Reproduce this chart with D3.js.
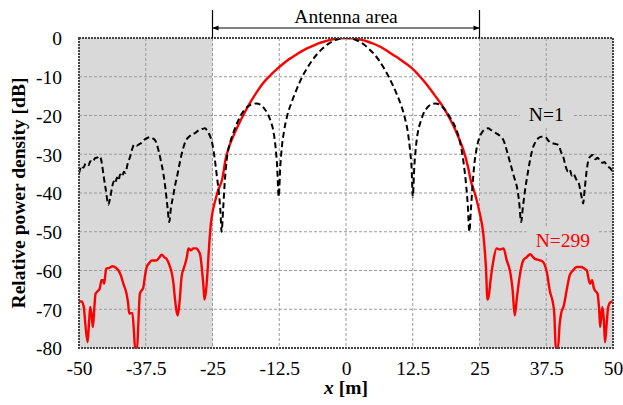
<!DOCTYPE html>
<html>
<head>
<meta charset="utf-8">
<script src="https://cdn.jsdelivr.net/npm/d3@7"></script>
<style>
    body { margin: 0; background: #fff; }
    svg text { font-family: "Liberation Serif", "Times New Roman", Times, "DejaVu Serif", serif; }
</style>
</head>
<body>
<div class="chart"></div>
<script>
// axis ticks
const xTicks = [-50, -37.5, -25, -12.5, 0, 12.5, 25, 37.5, 50];
const yTicks = [0, -10, -20, -30, -40, -50, -60, -70, -80];
const antennaEdges = [-25, 25];

// N=1 (black dashed)
const n1X = [-50, -49.5, -49.2, -48.7, -48.2, -47.9, -47.4, -47, -46.5, -46.1, -45.7, -45.4, -45, -44.5, -44.2,
    -43.8, -43.5, -43.2, -42.9, -42.6, -42.3, -41.9, -41.6, -41.3, -40.9, -40.4, -40, -39.7, -39.2, -38.7,
    -38.2, -37.7, -37.2, -36.7, -36.2, -35.7, -35.2, -34.7, -34.2, -33.8, -33.4, -33.1, -32.8, -32.4, -32,
    -31.6, -31.1, -30.6, -30, -29.4, -28.8, -28.2, -27.6, -27, -26.4, -25.9, -25.4, -25, -24.6, -24.2,
    -23.8, -23.5, -23.3, -23, -22.7, -22.3, -21.7, -21.1, -20.4, -19.8, -19.1, -18.4, -17.6, -16.8, -16,
    -15.3, -14.7, -14.1, -13.6, -13.2, -12.9, -12.6, -12.3, -12, -11.6, -11, -10.3, -9.6, -8.8, -8,
    -7.2, -6.3, -5.3, -4.3, -3.3, -2.3, -1.2, 0,
    1.2, 2.3, 3.3, 4.3, 5.3, 6.3, 7.2, 8, 8.8, 9.6, 10.3, 11, 11.6, 12, 12.3, 12.5, 12.8, 13.1, 13.5, 14,
    14.5, 15.2, 16, 16.7, 17.5, 18.2, 18.9, 19.6, 20.3, 21, 21.6, 22.1, 22.5, 22.8, 23.1, 23.4, 23.7, 24,
    24.4, 24.9, 25.4, 26, 26.6, 27.2, 27.8, 28.4, 29, 29.5, 30, 30.5, 31, 31.5, 32, 32.4, 32.8, 33.1, 33.5,
    33.9, 34.4, 34.9, 35.4, 36, 36.6, 37.3, 37.9, 38.5, 39.1, 39.8, 40.3, 40.7, 41.1, 41.6, 41.9, 42.3,
    42.6, 42.9, 43.3, 43.6, 43.9, 44.2, 44.4, 44.7, 45, 45.4, 45.8, 46.3, 46.7, 47.1, 47.6, 48, 48.4,
    48.8, 49.2, 49.6, 50];
const n1Db = [-35, -33, -33.5, -32.3, -32.8, -31.8, -32, -31, -30.8, -30.5, -32.5, -35.5, -39, -43, -41.5,
    -38.5, -37, -37.5, -36, -36.8, -35.2, -35.8, -34.5, -34.8, -32.5, -30.5, -28.5, -27.5, -27.8, -27.4,
    -27, -26.2, -25.8, -25.6, -25.9, -26.5, -28.5, -31.5, -35, -39, -44, -47.5, -44, -41, -38,
    -35.5, -32, -29, -26.5, -25.5, -24.8, -24.5, -23.8, -23.5, -23.3, -24.2, -25.5, -27.5, -31, -35.5,
    -40, -45, -50, -44, -37, -31, -27, -24.5, -22, -20.2, -18.7, -17.7, -17.1, -16.9, -17.2,
    -18.2, -19.5, -21.5, -24, -28, -33, -41, -33, -28, -24, -20, -17, -14.5, -11.8, -9.5,
    -7.6, -5.7, -4, -2.6, -1.5, -0.7, -0.2, 0,
    -0.2, -0.8, -1.6, -2.8, -4.2, -6, -8, -10, -12.3, -14.8, -17.3, -20.5, -24.5, -29, -34, -41, -33, -28, -24, -21.5,
    -19.5, -18, -17.1, -16.9, -17.2, -18, -19.2, -20.8, -22.5, -25, -28.5, -33, -38, -43, -50, -44, -38, -33,
    -29, -26, -24.5, -23.6, -23.3, -23.8, -24.3, -24.8, -25.5, -26.4, -28.5, -31, -33.5, -36, -38.4, -42, -47.5, -44, -39.5,
    -36, -32, -28.8, -27, -25.9, -25.5, -25.5, -26.5, -27.2, -27.3, -27.6, -29.5, -30.7, -33, -34.5, -34, -35.5,
    -35, -35.8, -37, -37.5, -39.5, -41.5, -42.7, -39, -35, -31.5, -30.5, -30.2, -31.3, -30.9, -31.8, -32.2, -32,
    -32.8, -33.3, -33.8, -34.8];

// N=299 (red solid)
const n299X = [-50, -49.5, -49.1, -48.8, -48.4, -48.1, -47.9, -47.6, -47.4, -47.1, -46.9, -46.4, -46.1, -45.8,
    -45.5, -45.3, -44.9, -44.3, -43.7, -43.1, -42.6, -42.1, -41.7, -41.1, -40.8, -40.6, -40.2, -40, -39.7,
    -39.5, -39.1, -38.9, -38.6, -38.2, -38, -37.6, -37.3, -36.8, -36.4, -35.5, -35, -34.5, -34, -33.6, -33.1,
    -32.6, -32.3, -32, -31.5, -31.1, -30.8, -30.4, -30.1, -29.8, -29.5, -29, -28.6, -28, -27.6, -27.3, -26.9,
    -26.7, -26.5, -26.2, -26, -25.7, -25.3, -25, -24.5, -24, -23.2, -22.5, -22, -21, -20, -19, -18, -17, -16,
    -15, -14, -13, -12, -11, -10, -9, -8, -7, -6, -5, -4, -3, -2, -1, 0,
    1, 2, 3, 4, 5, 6, 7, 8, 9, 10, 11, 12, 13, 14, 15, 16, 17, 18, 19, 20, 21, 22, 22.8, 23.5, 24, 24.5, 25,
    25.7, 26.2, 26.5, 26.8, 27, 27.6, 28.2, 28.8, 29.5, 30.1, 30.5, 30.8, 31.2, 31.6, 32, 32.5, 33.2, 33.8,
    34.5, 35, 35.4, 36.2, 36.9, 37.6, 38.2, 38.7, 39, 39.3, 39.7, 40, 40.3, 40.8, 41.2, 41.6, 41.9, 42.5,
    43.2, 44.1, 44.6, 45.1, 45.4, 45.7, 46.1, 46.4, 46.6, 47.1, 47.4, 47.6, 48, 48.3, 48.5, 48.8, 49.1, 49.5, 49.9];
const n299Db = [-68, -68, -69.5, -74, -78.5, -73, -69.4, -72, -74.6, -69, -66, -65.2, -64.6, -62.5,
    -62.5, -63.4, -59.5, -59.3, -58.9, -59.3, -60, -61.5, -63.4, -66, -68.5, -71.1, -71, -71, -76,
    -80, -80, -74, -66, -65, -64.6, -61, -59, -58, -57.4, -57.4, -56.7, -55.9, -56.6, -57, -58.5,
    -60.8, -63.5, -67.7, -71.6, -67, -61.7, -59.5, -58.2, -56.5, -54.3, -54.8, -54.3, -54.3, -55, -56, -60.8,
    -64, -67.5, -65, -61.7, -55, -47.9, -45, -42, -39.5, -36.5, -31, -28.5, -25, -22, -19.3, -16.8, -14.6, -12.5,
    -10.8, -9.4, -8.1, -6.9, -5.8, -4.9, -4, -3.2, -2.5, -1.9, -1.3, -0.9, -0.5, -0.2, -0.05, 0,
    -0.05, -0.2, -0.5, -0.9, -1.4, -2, -2.7, -3.6, -4.5, -5.4, -6.4, -7.4, -8.7, -10.2, -11.8, -13.6, -15.5,
    -17.4, -19.7, -22.3, -25.4, -29, -33, -37.5, -39.5, -42, -45,
    -50.4, -59.1, -67.5, -66, -63.4, -57.4, -54.3, -54.6, -54.3, -57.4, -59, -60.8, -65, -71.6, -67, -61.7, -57.4, -56.6,
    -55.8, -56.5, -57, -57.3, -57.8, -60.4, -65.5, -68, -71.1, -80, -80, -74, -71, -69, -66, -63, -61.2, -60,
    -59.1, -59.1, -59.5, -60, -62, -63.4, -62.5, -64.5, -65.1, -66, -70, -74.6, -69.4, -73, -78.5, -74, -69.4, -68.2, -68];

const width = 623;
const height = 405;
const margin = {top: 38, right: 10, bottom: 57, left: 79};
const innerW = width - margin.left - margin.right;
const innerH = height - margin.top - margin.bottom;
const fontSize = 19.5;
const serif = '"Liberation Serif", "Times New Roman", Times, "DejaVu Serif", serif';

const x = d3.scaleLinear().domain([-50, 50]).range([0, innerW]);
const y = d3.scaleLinear().domain([-80, 0]).range([innerH, 0]);

const svg = d3.select('.chart').append('svg')
    .attr('width', width)
    .attr('height', height)
    .attr('font-family', serif);

const g = svg.append('g')
    .attr('transform', `translate(${margin.left},${margin.top})`);

g.append('clipPath').attr('id', 'plot-clip')
    .append('rect').attr('width', innerW).attr('height', innerH + 1);

// shaded regions outside the antenna
g.selectAll('.shade')
    .data([[-50, antennaEdges[0]], [antennaEdges[1], 50]])
    .enter().append('rect')
    .attr('class', 'shade')
    .attr('x', d => x(d[0]))
    .attr('y', 0)
    .attr('width', d => x(d[1]) - x(d[0]))
    .attr('height', innerH)
    .attr('fill', '#d9d9d9');

// grid
g.append('g')
    .selectAll('line')
    .data(xTicks.slice(1, -1))
    .enter().append('line')
    .attr('x1', d => x(d)).attr('x2', d => x(d))
    .attr('y1', 0).attr('y2', innerH)
    .attr('stroke', '#9a9a9a').attr('stroke-width', 1).attr('stroke-dasharray', '3,2');

g.append('g')
    .selectAll('line')
    .data(yTicks.slice(1, -1))
    .enter().append('line')
    .attr('x1', 0).attr('x2', innerW)
    .attr('y1', d => y(d)).attr('y2', d => y(d))
    .attr('stroke', '#9a9a9a').attr('stroke-width', 1).attr('stroke-dasharray', '3,2');

// axes (labels only)
const xAxis = g.append('g')
    .attr('transform', `translate(0,${innerH})`)
    .call(d3.axisBottom(x).tickValues(xTicks).tickSize(0).tickPadding(13).tickFormat(d => String(d)));
const yAxis = g.append('g')
    .call(d3.axisLeft(y).tickValues(yTicks).tickSize(0).tickPadding(17).tickFormat(d => String(d)));

[xAxis, yAxis].forEach(a => {
    a.attr('font-family', serif).attr('font-size', fontSize);
    a.select('.domain').remove();
    a.selectAll('text').attr('fill', '#000');
});
yAxis.selectAll('text').attr('dy', '0.35em');

// series labels with background
const labels = [
    {text: 'N=1', xv: 37.5, yv: -20, color: '#000', dy: 5},
    {text: 'N=299', xv: 40.6, yv: -50, color: '#ff0000', dy: 15}
];
labels.forEach(l => {
    const t = g.append('text')
        .attr('x', x(l.xv))
        .attr('y', y(l.yv) + l.dy)
        .attr('text-anchor', 'middle')
        .attr('font-size', fontSize)
        .attr('fill', l.color)
        .text(l.text);
    const b = t.node().getBBox();
    g.insert('rect', () => t.node())
        .attr('x', b.x - 9).attr('y', b.y - 2)
        .attr('width', b.width + 18).attr('height', b.height + 4)
        .attr('fill', '#d9d9d9');
});

// curves
const line = d3.line()
    .x(d => x(d[0]))
    .y(d => y(d[1]))
    .curve(d3.curveMonotoneX);

g.append('path')
    .datum(n299X.map((v, i) => [v, n299Db[i]]))
    .attr('clip-path', 'url(#plot-clip)')
    .attr('fill', 'none')
    .attr('stroke', '#ff0000')
    .attr('stroke-width', 2.4)
    .attr('stroke-linejoin', 'round')
    .attr('d', line);

g.append('path')
    .datum(n1X.map((v, i) => [v, n1Db[i]]))
    .attr('clip-path', 'url(#plot-clip)')
    .attr('fill', 'none')
    .attr('stroke', '#000')
    .attr('stroke-width', 2)
    .attr('stroke-dasharray', '6,3.5')
    .attr('d', line);

// plot border
g.append('rect')
    .attr('width', innerW).attr('height', innerH)
    .attr('fill', 'none')
    .attr('stroke', '#444')
    .attr('stroke-width', 2)
    .attr('stroke-dasharray', '2,1');

// antenna area annotation
const arrowY = -10;
g.append('defs').selectAll('marker')
    .data(['start', 'end'])
    .enter().append('marker')
    .attr('id', d => `arrow-${d}`)
    .attr('viewBox', '0 0 10 10')
    .attr('refX', 10).attr('refY', 5)
    .attr('markerWidth', 8).attr('markerHeight', 6)
    .attr('markerUnits', 'userSpaceOnUse')
    .attr('orient', 'auto-start-reverse')
    .append('path')
    .attr('d', 'M0,1L10,5L0,9Z')
    .attr('fill', '#000');

g.selectAll('.edge')
    .data(antennaEdges)
    .enter().append('line')
    .attr('class', 'edge')
    .attr('x1', d => x(d)).attr('x2', d => x(d))
    .attr('y1', -28).attr('y2', 0)
    .attr('stroke', '#000').attr('stroke-width', 1.2);

g.append('line')
    .attr('x1', x(antennaEdges[0])).attr('x2', x(antennaEdges[1]))
    .attr('y1', arrowY).attr('y2', arrowY)
    .attr('stroke', '#000').attr('stroke-width', 1)
    .attr('marker-start', 'url(#arrow-start)')
    .attr('marker-end', 'url(#arrow-end)');

g.append('text')
    .attr('x', x(0))
    .attr('y', -15)
    .attr('text-anchor', 'middle')
    .attr('font-size', fontSize)
    .text('Antenna area');

// axis titles
const xTitle = g.append('text')
    .attr('x', x(0))
    .attr('y', innerH + 46)
    .attr('text-anchor', 'middle')
    .attr('font-size', fontSize)
    .attr('font-weight', 'bold');
xTitle.append('tspan').attr('font-style', 'italic').text('x');
xTitle.append('tspan').text(' [m]');

g.append('text')
    .attr('transform', `translate(${25 - margin.left},${innerH / 2}) rotate(-90)`)
    .attr('text-anchor', 'middle')
    .attr('font-size', fontSize)
    .attr('font-weight', 'bold')
    .text('Relative power density [dB]');
</script>
</body>
</html>
